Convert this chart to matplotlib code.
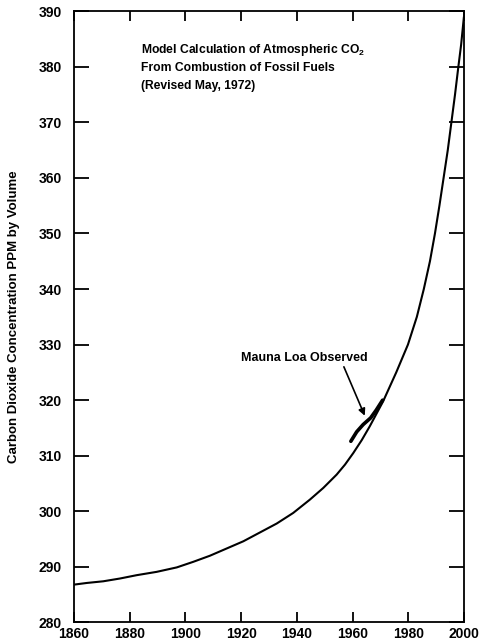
import numpy as np
import matplotlib.pyplot as plt

plt.rcParams['font.family'] = ['Liberation Sans', 'DejaVu Sans']
plt.rcParams['mathtext.fontset'] = 'custom'
plt.rcParams['mathtext.rm'] = 'Liberation Sans'
plt.rcParams['mathtext.bf'] = 'Liberation Sans:bold'

# model curve, ppm CO2 by year
model_years = [1860, 1864.6, 1870.5, 1876.5, 1882.5, 1889.7, 1896.9, 1902.8,
               1908.8, 1914.8, 1920.8, 1926.8, 1932.8, 1938.7, 1944.7, 1949.5,
               1954.3, 1957.3, 1960.3, 1963.3, 1966.2, 1971.0, 1975.7, 1979.9,
               1983.1, 1985.6, 1987.8, 1989.6, 1991.2, 1992.7, 1994.2, 1995.5,
               1996.8, 1998.0, 1999.0, 2000]
model_ppm = [286.8, 287.1, 287.4, 287.9, 288.5, 289.1, 289.9, 290.9,
             292.0, 293.3, 294.6, 296.2, 297.8, 299.7, 302.1, 304.2,
             306.6, 308.4, 310.5, 312.8, 315.3, 319.8, 325.0, 330.0,
             335.0, 340.0, 345.0, 350.0, 355.0, 360.0, 365.0, 370.0,
             375.0, 380.0, 384.0, 389.0]

# Mauna Loa observations
obs_years = [1959.4, 1961.5, 1963.8, 1966.5, 1968.5, 1970.8]
obs_ppm = [312.6, 314.3, 315.6, 316.8, 318.2, 320.0]

x_ticks = list(range(1860, 2001, 20))
y_ticks = list(range(280, 391, 10))

fig = plt.figure(figsize=(4.82, 6.41), dpi=100)
ax = fig.add_axes([0.1535, 0.029, 0.809, 0.9535])

ax.plot(model_years, model_ppm, color='black', lw=1.5,
        solid_capstyle='round', solid_joinstyle='round')
ax.plot(obs_years, obs_ppm, color='black', lw=2.6,
        solid_capstyle='round', solid_joinstyle='round')

ax.set_xlim(1860, 2000)
ax.set_ylim(280, 390)
ax.set_xticks(x_ticks)
ax.set_yticks(y_ticks)

for s in ax.spines.values():
    s.set_linewidth(1.3)

ax.tick_params(axis='x', direction='in', top=True, length=7.5, width=1.3,
               labelsize=10, pad=3)
ax.tick_params(axis='y', direction='in', right=True, length=11, width=1.3,
               labelsize=10, pad=9)
for lbl in ax.get_xticklabels() + ax.get_yticklabels():
    lbl.set_fontweight('bold')

ax.set_ylabel('Carbon Dioxide Concentration PPM by Volume', fontsize=9.5,
              fontweight='bold', labelpad=13)

title_lines = ['Model Calculation of Atmospheric CO$_\\mathbf{2}$',
               'From Combustion of Fossil Fuels',
               '(Revised May, 1972)']
for i, line in enumerate(title_lines):
    ax.text(1884, 383 - i * 3.2, line, fontsize=8.7, fontweight='bold',
            ha='left', va='center')

ax.annotate('', xy=(1964.4, 317.2), xytext=(1956.9, 326.0),
            arrowprops=dict(arrowstyle='-|>', color='black', lw=1.2,
                            mutation_scale=10, shrinkA=0, shrinkB=0))
ax.text(1942.6, 327.6, 'Mauna Loa Observed', fontsize=9, fontweight='bold',
        ha='center', va='center')

fig.savefig('out.png', dpi=100)
